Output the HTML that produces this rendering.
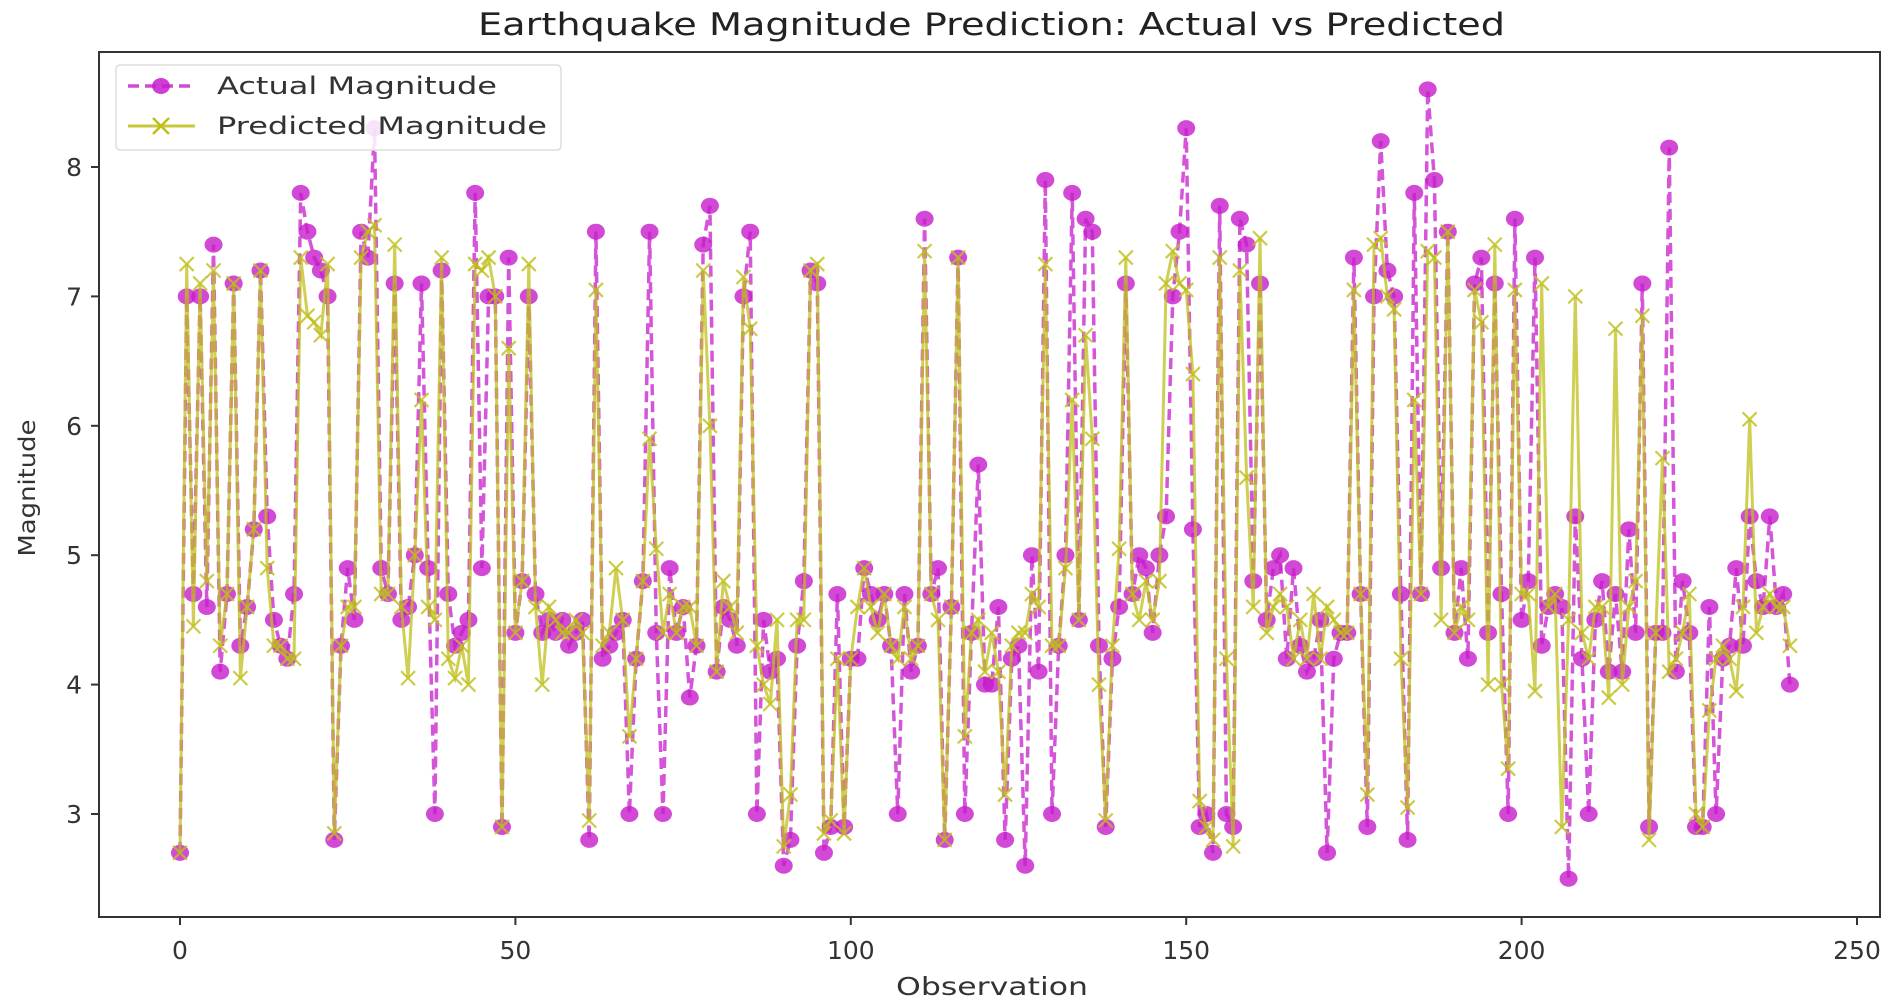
<!DOCTYPE html>
<html><head><meta charset="utf-8"><style>
html,body{margin:0;padding:0;background:#fff;}
svg{display:block;font-family:"DejaVu Sans","Liberation Sans",sans-serif;}
</style></head><body>
<svg id="chart" width="1902" height="1001" viewBox="0 0 1902 1001" xmlns="http://www.w3.org/2000/svg">
<text x="478" y="35" font-size="31" textLength="1027" lengthAdjust="spacingAndGlyphs" fill="#222">Earthquake Magnitude Prediction: Actual vs Predicted</text>
<text x="896" y="995" font-size="25" textLength="192" lengthAdjust="spacingAndGlyphs" fill="#333">Observation</text>
<text x="0" y="0" font-size="23" text-anchor="middle" textLength="137" lengthAdjust="spacingAndGlyphs" fill="#333" transform="translate(35,488) rotate(-90)">Magnitude</text>
<g id="plot"></g>
<rect x="99" y="52" width="1781" height="865" fill="none" stroke="#333" stroke-width="2"/>
<g id="ticks"></g>
<g>
<rect x="116" y="65" width="445" height="85" rx="4" fill="#fff" fill-opacity="0.85" stroke="#ddd" stroke-width="1.5"/>
<g>
<line x1="128" y1="86" x2="195" y2="86" stroke="#c71ccc" stroke-width="3.5" stroke-dasharray="11,6" opacity="0.8"/>
<ellipse cx="161" cy="86" rx="9" ry="8" fill="#c71ccc" opacity="0.85"/>
<text x="217" y="94" font-size="24" textLength="280" lengthAdjust="spacingAndGlyphs" fill="#333">Actual Magnitude</text>
</g>
<g>
<line x1="128" y1="126" x2="195" y2="126" stroke="#bfbf1a" stroke-width="3" opacity="0.85"/>
<path d="M153 118 L169 134 M169 118 L153 134" stroke="#bfbf1a" stroke-width="2.5"/>
<text x="217" y="134" font-size="24" textLength="330" lengthAdjust="spacingAndGlyphs" fill="#333">Predicted Magnitude</text>
</g>
</g>
</svg>
<script>
const actual=[2.7,7.0,4.7,7.0,4.6,7.4,4.1,4.7,7.1,4.3,4.6,5.2,7.2,5.3,4.5,4.3,4.2,4.7,7.8,7.5,7.3,7.2,7.0,2.8,4.3,4.9,4.5,7.5,7.3,8.3,4.9,4.7,7.1,4.5,4.6,5.0,7.1,4.9,3.0,7.2,4.7,4.3,4.4,4.5,7.8,4.9,7.0,7.0,2.9,7.3,4.4,4.8,7.0,4.7,4.4,4.5,4.4,4.5,4.3,4.4,4.5,2.8,7.5,4.2,4.3,4.4,4.5,3.0,4.2,4.8,7.5,4.4,3.0,4.9,4.4,4.6,3.9,4.3,7.4,7.7,4.1,4.6,4.5,4.3,7.0,7.5,3.0,4.5,4.1,4.2,2.6,2.8,4.3,4.8,7.2,7.1,2.7,2.9,4.7,2.9,4.2,4.2,4.9,4.7,4.5,4.7,4.3,3.0,4.7,4.1,4.3,7.6,4.7,4.9,2.8,4.6,7.3,3.0,4.4,5.7,4.0,4.0,4.6,2.8,4.2,4.3,2.6,5.0,4.1,7.9,3.0,4.3,5.0,7.8,4.5,7.6,7.5,4.3,2.9,4.2,4.6,7.1,4.7,5.0,4.9,4.4,5.0,5.3,7.0,7.5,8.3,5.2,2.9,3.0,2.7,7.7,3.0,2.9,7.6,7.4,4.8,7.1,4.5,4.9,5.0,4.2,4.9,4.3,4.1,4.2,4.5,2.7,4.2,4.4,4.4,7.3,4.7,2.9,7.0,8.2,7.2,7.0,4.7,2.8,7.8,4.7,8.6,7.9,4.9,7.5,4.4,4.9,4.2,7.1,7.3,4.4,7.1,4.7,3.0,7.6,4.5,4.8,7.3,4.3,4.6,4.7,4.6,2.5,5.3,4.2,3.0,4.5,4.8,4.1,4.7,4.1,5.2,4.4,7.1,2.9,4.4,4.4,8.15,4.1,4.8,4.4,2.9,2.9,4.6,3.0,4.2,4.3,4.9,4.3,5.3,4.8,4.6,5.3,4.6,4.7,4.0];
const predicted=[2.7,7.25,4.45,7.1,4.8,7.2,4.3,4.7,7.1,4.05,4.6,5.2,7.2,4.9,4.3,4.3,4.2,4.2,7.3,6.85,6.8,6.7,7.25,2.85,4.3,4.6,4.6,7.3,7.5,7.55,4.7,4.7,7.4,4.6,4.05,5.0,6.2,4.6,4.5,7.3,4.2,4.05,4.3,4.0,7.25,7.2,7.3,7.0,2.9,6.6,4.4,4.8,7.25,4.6,4.0,4.6,4.5,4.4,4.4,4.5,4.4,2.95,7.05,4.3,4.4,4.9,4.5,3.6,4.2,4.8,5.9,5.05,4.4,4.7,4.4,4.6,4.6,4.3,7.2,6.0,4.1,4.8,4.6,4.4,7.15,6.75,4.3,4.0,3.85,4.5,2.75,3.15,4.5,4.5,7.2,7.25,2.85,2.95,4.2,2.85,4.2,4.6,4.9,4.6,4.4,4.7,4.3,4.2,4.6,4.2,4.3,7.35,4.7,4.5,2.8,4.6,7.3,3.6,4.4,4.5,4.1,4.4,4.1,3.15,4.3,4.4,4.4,4.7,4.6,7.25,4.3,4.3,4.9,6.2,4.5,6.7,5.9,4.0,2.95,4.3,5.05,7.3,4.7,4.5,4.8,4.5,4.8,7.1,7.35,7.1,7.05,6.4,3.1,2.9,2.8,7.3,4.2,2.75,7.2,5.6,4.6,7.45,4.4,4.6,4.7,4.6,4.2,4.5,4.2,4.7,4.2,4.6,4.5,4.4,4.4,7.05,4.7,3.15,7.4,7.45,7.0,6.9,4.2,3.05,6.2,4.7,7.35,7.3,4.5,7.5,4.4,4.6,4.5,7.05,6.8,4.0,7.4,4.0,3.35,7.05,4.7,4.7,3.95,7.1,4.6,4.7,2.9,4.5,7.0,4.4,4.2,4.6,4.6,3.9,6.75,4.0,4.6,4.8,6.85,2.8,4.4,5.75,4.1,4.2,4.4,4.7,3.0,2.9,3.8,4.2,4.3,4.2,3.95,4.6,6.05,4.4,4.6,4.7,4.6,4.6,4.3];
const xTicks=[0,50,100,150,200,250];
const yTicks=[3,4,5,6,7,8];
const NS='http://www.w3.org/2000/svg';
function xs(v){return 180+(v-0)*(1857-180)/250;}
function ys(v){return 814-(v-3)*(814-167)/5;}
const plot=document.getElementById('plot');
const ticks=document.getElementById('ticks');
function mk(tag,attrs,parent){const e=document.createElementNS(NS,tag);for(const k in attrs)e.setAttribute(k,attrs[k]);parent.appendChild(e);return e;}
let d='';actual.forEach((v,i)=>{d+=(i?'L':'M')+xs(i).toFixed(1)+' '+ys(v).toFixed(1)+' ';});
const la=mk('path',{d:d,fill:'none',stroke:'#c71ccc','stroke-width':3.5,'stroke-dasharray':'11,6',opacity:0.75},plot);


actual.forEach((v,i)=>{
const c=mk('ellipse',{cx:xs(i),cy:ys(v),rx:9,ry:8,fill:'#c71ccc',opacity:0.8},plot);


});
let d2='';predicted.forEach((v,i)=>{d2+=(i?'L':'M')+xs(i).toFixed(1)+' '+ys(v).toFixed(1)+' ';});
const lp=mk('path',{d:d2,fill:'none',stroke:'#bfbf1a','stroke-width':3,opacity:0.75},plot);


predicted.forEach((v,i)=>{
const x=xs(i),y=ys(v);
const m=mk('path',{d:`M${x-7} ${y-7}L${x+7} ${y+7}M${x+7} ${y-7}L${x-7} ${y+7}`,stroke:'#bfbf1a','stroke-width':2.2,opacity:0.8},plot);


});
xTicks.forEach(t=>{
const l=mk('line',{x1:xs(t),x2:xs(t),y1:917,y2:925,stroke:'#333','stroke-width':2},ticks);


const tx=mk('text',{x:xs(t),y:959,'font-size':25,'text-anchor':'middle',fill:'#333'},ticks);
tx.textContent=t;


});
yTicks.forEach(t=>{
const l=mk('line',{x1:91,x2:99,y1:ys(t),y2:ys(t),stroke:'#333','stroke-width':2},ticks);


const tx=mk('text',{x:82,y:ys(t)+9,'font-size':25,'text-anchor':'end',fill:'#333'},ticks);
tx.textContent=t;


});
</script>
</body></html>
